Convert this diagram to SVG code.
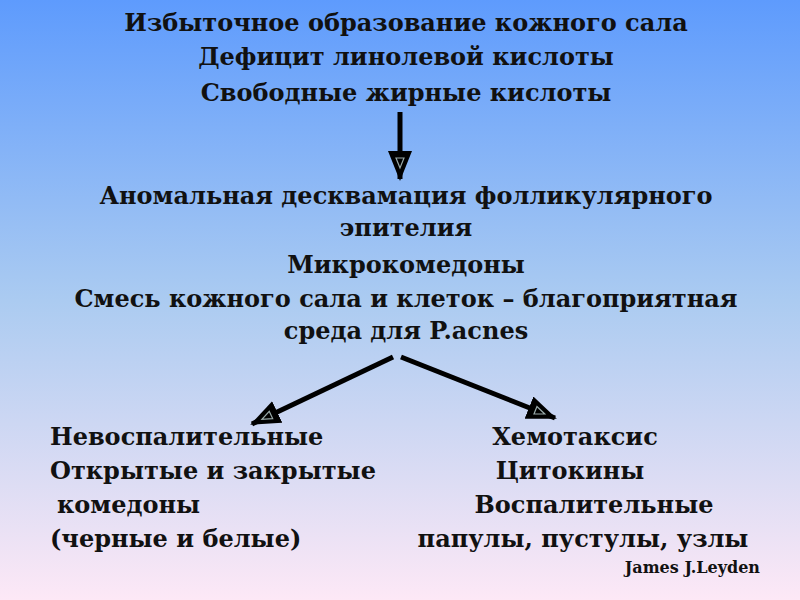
<svg xmlns="http://www.w3.org/2000/svg" width="800" height="600" viewBox="0 0 800 600">
<defs>
<linearGradient id="bg" x1="0" y1="0" x2="0" y2="1">
<stop offset="0" stop-color="#5e9bfd"/>
<stop offset="0.5" stop-color="#abcbf1"/>
<stop offset="1" stop-color="#fde8f6"/>
</linearGradient>
<marker id="ah" viewBox="0 0 30 24" refX="28" refY="12" markerWidth="30" markerHeight="24" markerUnits="userSpaceOnUse" orient="auto">
<path d="M0,0 L30,12 L0,24 Z" fill="#000"/>
<path d="M7,8 L17,12 L7,16 Z" fill="none" stroke="#9aa" stroke-width="1.2"/>
</marker>
<style>
text{font-family:"DejaVu Serif","Liberation Serif",serif;font-weight:bold;font-size:24px;fill:#111;}
.c{text-anchor:middle;}
.s{font-size:16px;text-anchor:end;}
.ln{stroke:#000;stroke-width:5;fill:none;}
</style>
</defs>
<rect width="800" height="600" fill="url(#bg)"/>
<g id="top">
<text class="c" x="406" y="31">Избыточное образование кожного сала</text>
<text class="c" x="406" y="65">Дефицит линолевой кислоты</text>
<text class="c" x="406" y="101">Свободные жирные кислоты</text>
</g>
<g id="middle">
<text class="c" x="406" y="204">Аномальная десквамация фолликулярного</text>
<text class="c" x="406" y="236">эпителия</text>
<text class="c" x="406" y="273">Микрокомедоны</text>
<text class="c" x="406" y="307">Смесь кожного сала и клеток – благоприятная</text>
<text class="c" x="406" y="339">среда для P.acnes</text>
</g>
<g id="left">
<text x="50" y="445">Невоспалительные</text>
<text x="50" y="479">Открытые и закрытые</text>
<text x="57" y="513">комедоны</text>
<text x="50" y="547">(черные и белые)</text>
</g>
<g id="right">
<text class="c" x="575" y="445">Хемотаксис</text>
<text class="c" x="570" y="479">Цитокины</text>
<text class="c" x="594" y="513">Воспалительные</text>
<text class="c" x="583" y="547">папулы, пустулы, узлы</text>
</g>
<g id="credit">
<text class="s" x="760" y="573">James J.Leyden</text>
</g>
<g id="connectors">
<line class="ln" x1="400" y1="112" x2="400" y2="179" marker-end="url(#ah)"/>
<line class="ln" x1="393" y1="357" x2="252" y2="424" marker-end="url(#ah)"/>
<line class="ln" x1="401" y1="357" x2="555" y2="418" marker-end="url(#ah)"/>
</g>
</svg>
